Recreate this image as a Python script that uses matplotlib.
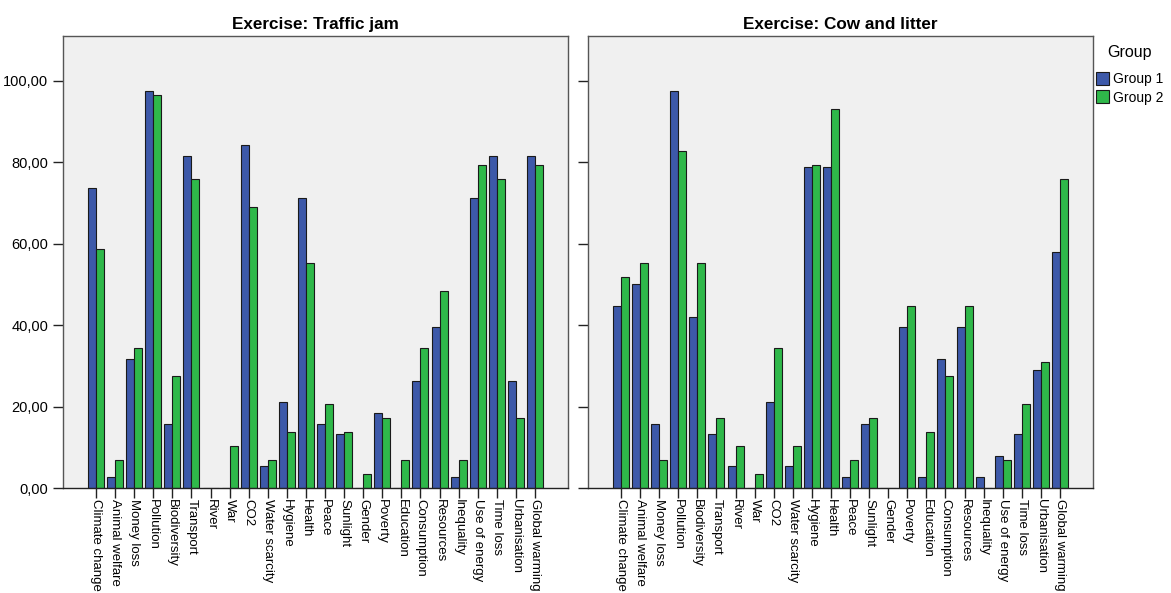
import matplotlib.pyplot as plt
import numpy as np

plt.rcParams['font.family'] = ['Liberation Sans', 'DejaVu Sans']

# categories shared by both panels
topics = ['Climate change', 'Animal welfare', 'Money loss', 'Pollution', 'Biodiversity',
          'Transport', 'River', 'War', 'CO2', 'Water scarcity', 'Hygiene', 'Health',
          'Peace', 'Sunlight', 'Gender', 'Poverty', 'Education', 'Consumption',
          'Resources', 'Inequality', 'Use of energy', 'Time loss', 'Urbanisation',
          'Global warming']

# Exercise: Traffic jam (percent)
traffic_g1 = [73.7, 2.6, 31.6, 97.4, 15.8, 81.6, 0.0, 0.0, 84.2, 5.3, 21.1, 71.1,
              15.8, 13.2, 0.0, 18.4, 0.0, 26.3, 39.5, 2.6, 71.1, 81.6, 26.3, 81.6]
traffic_g2 = [58.6, 6.9, 34.5, 96.6, 27.6, 75.9, 0.0, 10.3, 69.0, 6.9, 13.8, 55.2,
              20.7, 13.8, 3.4, 17.2, 6.9, 34.5, 48.3, 6.9, 79.3, 75.9, 17.2, 79.3]

# Exercise: Cow and litter (percent)
cow_g1 = [44.7, 50.0, 15.8, 97.4, 42.1, 13.2, 5.3, 0.0, 21.1, 5.3, 78.9, 78.9,
          2.6, 15.8, 0.0, 39.5, 2.6, 31.6, 39.5, 2.6, 7.9, 13.2, 28.9, 57.9]
cow_g2 = [51.7, 55.2, 6.9, 82.8, 55.2, 17.2, 10.3, 3.4, 34.5, 10.3, 79.3, 93.1,
          6.9, 17.2, 0.0, 44.8, 13.8, 27.6, 44.8, 0.0, 6.9, 20.7, 31.0, 75.9]

panels = [('Exercise: Traffic jam', traffic_g1, traffic_g2),
          ('Exercise: Cow and litter', cow_g1, cow_g2)]

blue = '#3d59a9'
green = '#2fb84a'
frame = '#555555'

fig = plt.figure(figsize=(11.71, 5.93), dpi=100)
ax_left = fig.add_axes([63 / 1171, 1 - 488 / 593, 505 / 1171, 452 / 593])
ax_right = fig.add_axes([588 / 1171, 1 - 488 / 593, 505 / 1171, 452 / 593])

x = np.arange(len(topics))
w = 0.42
for ax, (title, g1, g2) in zip([ax_left, ax_right], panels):
    ax.set_facecolor('#f0f0f0')
    ax.bar(x - w / 2, g1, w, color=blue, edgecolor='#1a1a1a', linewidth=0.8,
           label='Group 1')
    ax.bar(x + w / 2, g2, w, color=green, edgecolor='#1a1a1a', linewidth=0.8,
           label='Group 2')
    ax.set_xlim(-1.73, len(topics) - 1 + 1.73)
    ax.set_ylim(0, 111)
    ax.set_yticks([0, 20, 40, 60, 80, 100])
    ax.set_xticks(x)
    ax.set_xticklabels(topics, rotation=270, ha='center', va='top', fontsize=9.5)
    ax.tick_params(axis='both', direction='out', length=7, width=1, color='#222222')
    ax.tick_params(axis='x', pad=1)
    ax.set_title(title, fontsize=12.3, fontweight='bold', pad=5)
    for s in ax.spines.values():
        s.set_color(frame)
        s.set_linewidth(1)
    ax.spines['bottom'].set_color('#222222')

ax_left.set_yticklabels(['0,00', '20,00', '40,00', '60,00', '80,00', '100,00'], fontsize=10.5)
ax_right.set_yticklabels([])

fig.text(1129 / 1171, 1 - 53 / 593, 'Group', fontsize=11.5, ha='center', va='center')
leg = ax_right.legend(loc='upper left', bbox_to_anchor=(1096 / 1171, 1 - 72 / 593),
                      bbox_transform=fig.transFigure, frameon=False,
                      fontsize=10, handlelength=0.9, handleheight=1.05,
                      handletextpad=0.3, labelspacing=0.3, borderpad=0,
                      borderaxespad=0)

plt.savefig('out.png', dpi=100)
